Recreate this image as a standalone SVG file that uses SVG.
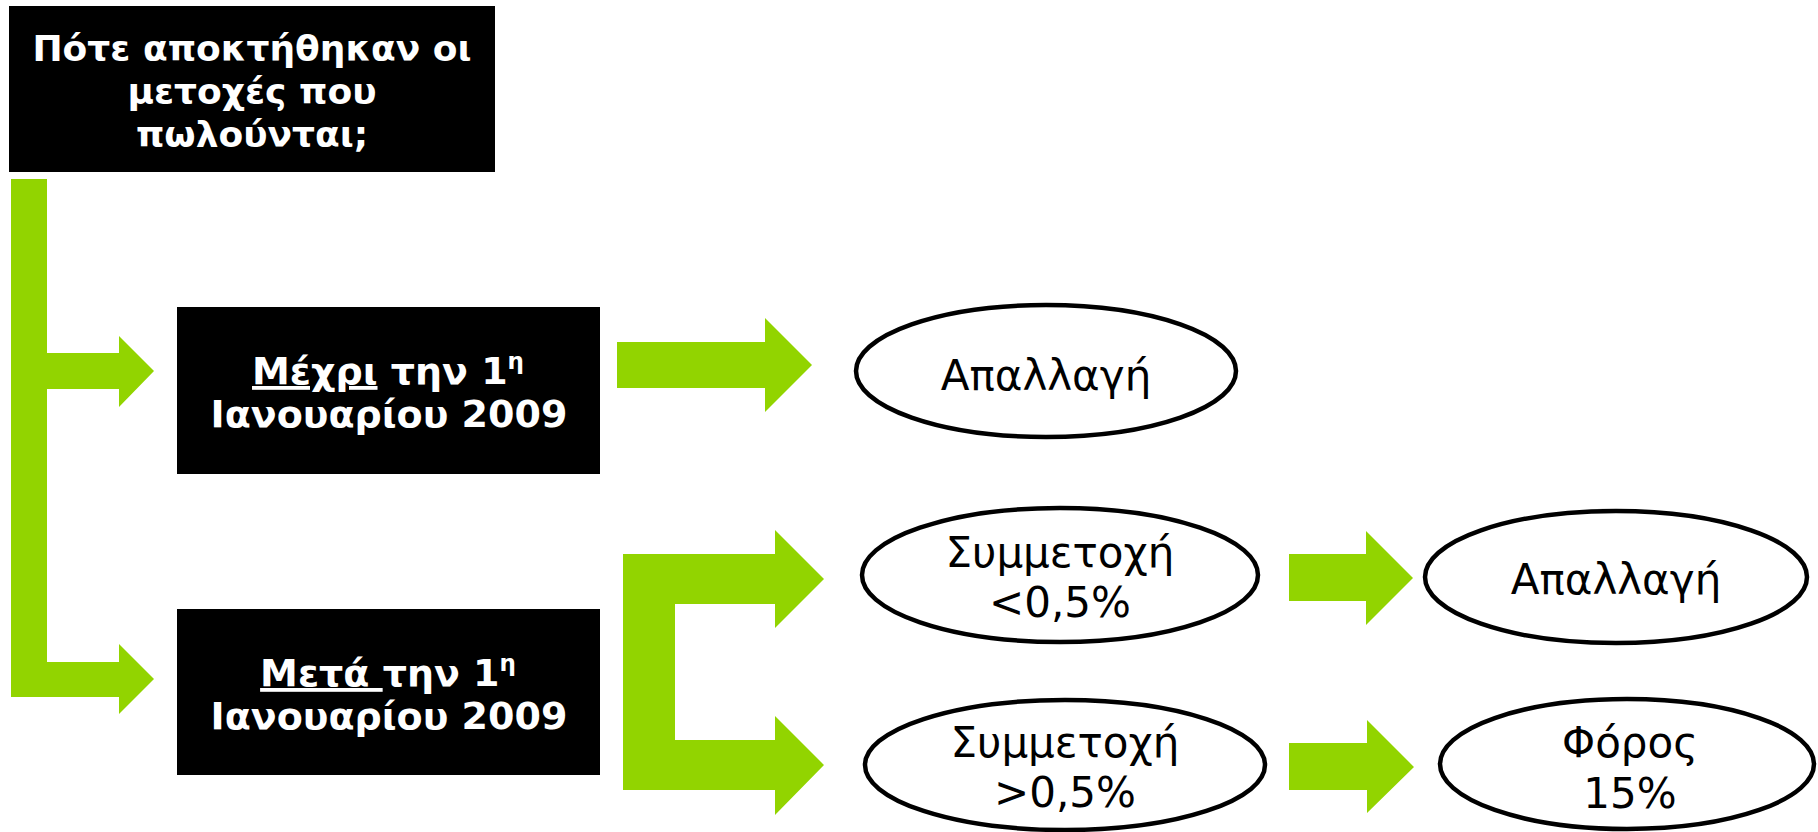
<svg xmlns="http://www.w3.org/2000/svg" width="1818" height="832" viewBox="0 0 1818 832">
<style>
.box{fill:#000;}
.bt{font-family:"DejaVu Sans","Noto Sans",sans-serif;font-weight:bold;fill:#fff;text-anchor:middle;}
.el{fill:#fff;stroke:#000;stroke-width:4.5;}
.et{font-family:"DejaVu Sans","Noto Sans",sans-serif;font-size:42px;fill:#000;text-anchor:middle;}
.arr{fill:#92D400;}
.u{text-decoration:underline;}
</style>
<rect width="1818" height="832" fill="#fff"/>
<g id="connectors">
<polygon class="arr" points="11,179 47,179 47,353 119,353 119,336 154,371 119,407 119,389 47,389 47,662 119,662 119,644 154,679 119,714 119,697 11,697"/>
<polygon class="arr" points="617,342 765,342 765,318 812,365 765,412 765,388 617,388"/>
<polygon class="arr" points="623,554 775,554 775,530 824,579 775,628 775,604 675,604 675,740 775,740 775,716 824,765 775,815 775,790 623,790"/>
<polygon class="arr" points="1289,554 1366,554 1366,531 1413,578 1366,625 1366,601 1289,601"/>
<polygon class="arr" points="1289,743 1367,743 1367,720 1414,767 1367,813 1367,790 1289,790"/>
</g>
<g id="q">
<rect class="box" x="9" y="6" width="486" height="166"/>
<text class="bt" font-size="36" x="252" y="61">Πότε αποκτήθηκαν οι</text>
<text class="bt" font-size="36" x="252" y="104">μετοχές που</text>
<text class="bt" font-size="36" x="252" y="147">πωλούνται;</text>
</g>
<g id="before">
<rect class="box" x="177" y="307" width="423" height="167"/>
<text class="bt" font-size="38" x="388" y="384"><tspan class="u">Μέχρι</tspan> την 1<tspan font-size="23" dy="-15">η</tspan></text>
<text class="bt" font-size="38" x="389" y="427">Ιανουαρίου 2009</text>
</g>
<g id="after">
<rect class="box" x="177" y="609" width="423" height="166"/>
<text class="bt" font-size="38" x="388" y="686"><tspan class="u">Μετά </tspan>την 1<tspan font-size="23" dy="-15">η</tspan></text>
<text class="bt" font-size="38" x="389" y="729">Ιανουαρίου 2009</text>
</g>
<g id="e1">
<ellipse class="el" cx="1046" cy="371" rx="190" ry="66"/>
<text class="et" x="1046" y="390">Απαλλαγή</text>
</g>
<g id="e2">
<ellipse class="el" cx="1060" cy="575" rx="198" ry="67"/>
<text class="et" x="1060" y="567">Συμμετοχή</text>
<text class="et" x="1060" y="617">&lt;0,5%</text>
</g>
<g id="e3">
<ellipse class="el" cx="1065" cy="765" rx="200" ry="65"/>
<text class="et" x="1065" y="757">Συμμετοχή</text>
<text class="et" x="1065" y="807">&gt;0,5%</text>
</g>
<g id="e4">
<ellipse class="el" cx="1616" cy="577" rx="191" ry="66"/>
<text class="et" x="1616" y="594">Απαλλαγή</text>
</g>
<g id="e5">
<ellipse class="el" cx="1627" cy="764" rx="187" ry="65"/>
<text class="et" x="1630" y="757">Φόρος</text>
<text class="et" x="1630" y="808">15%</text>
</g>
</svg>
